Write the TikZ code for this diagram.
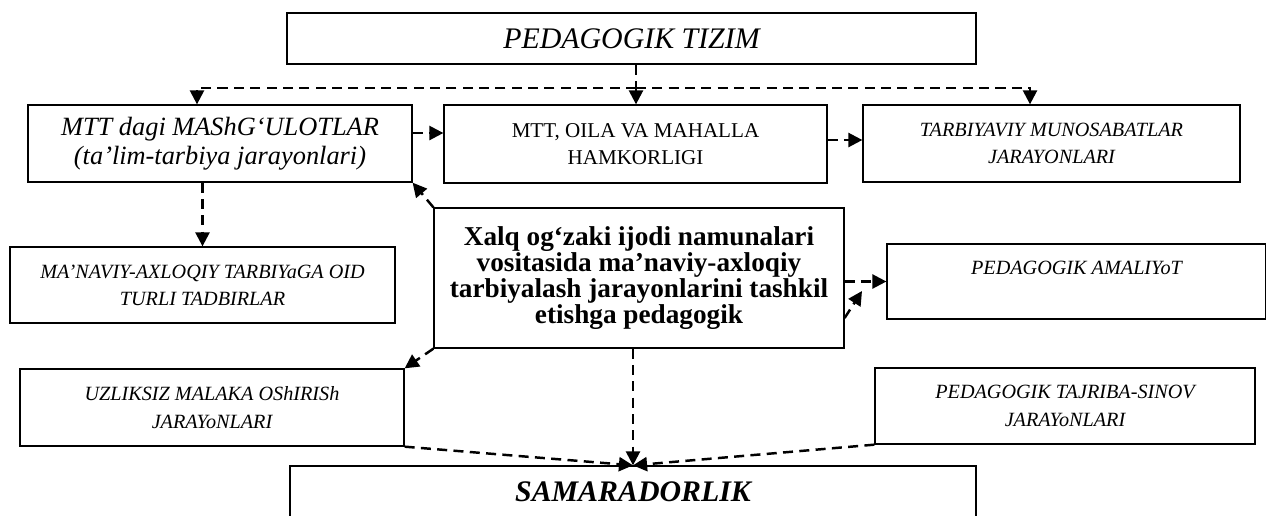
\documentclass[tikz,border=0pt]{standalone}
\usepackage{fontspec}
\setmainfont{Liberation Serif}
\usetikzlibrary{arrows.meta}
\tikzset{
  blok/.style={draw,line width=0.75pt,inner sep=0pt,align=center},
  strelka/.style={-{Triangle[length=8pt,width=8pt]},line width=1.4pt,dash pattern=on 5.7pt off 3.6pt},
  kichik/.style={font=\fontsize{11.5}{15.5}\selectfont\itshape}
}
\begin{document}
\begin{tikzpicture}[x=0.02cm,y=-0.02cm]
  \useasboundingbox (0,0) rectangle (1266,515);
  % yuqori qator
  \node[blok,minimum width=13.78cm,minimum height=1.02cm,font=\fontsize{17}{20}\selectfont\itshape] (tizim) at (631.5,38.5) {PEDAGOGIK TIZIM};
  \node[blok,minimum width=7.68cm,minimum height=1.54cm,font=\fontsize{15}{16.5}\selectfont\itshape] (mashg) at (220,143.5) {MTT dagi MAShG‘ULOTLAR\\(ta’lim-tarbiya jarayonlari)};
  \node[blok,minimum width=7.66cm,minimum height=1.56cm,font=\fontsize{12}{15.5}\selectfont] (hamkor) at (635.5,144) {MTT, OILA VA MAHALLA\\HAMKORLIGI};
  \node[blok,minimum width=7.54cm,minimum height=1.54cm,kichik] (munosabat) at (1051.5,143.5) {TARBIYAVIY MUNOSABATLAR\\JARAYONLARI};
  % o'rta qator
  \node[blok,minimum width=7.7cm,minimum height=1.52cm,kichik] (manaviy) at (202.5,285) {MA’NAVIY-AXLOQIY TARBIYaGA OID\\TURLI TADBIRLAR};
  \node[blok,minimum width=8.2cm,minimum height=2.8cm,font=\fontsize{15.5}{14.8}\selectfont\bfseries] (xalq) at (639,278) {Xalq og‘zaki ijodi namunalari\\vositasida ma’naviy-axloqiy\\tarbiyalash jarayonlarini tashkil\\etishga pedagogik};
  \node[blok,minimum width=7.58cm,minimum height=1.5cm,kichik] (amaliyot) at (1076.5,281.5) {PEDAGOGIK AMALIYoT\\\mbox{}};
  % pastki qator
  \node[blok,minimum width=7.68cm,minimum height=1.54cm,kichik] (uzliksiz) at (212,407.5) {UZLIKSIZ MALAKA OShIRISh\\JARAYoNLARI};
  \node[blok,minimum width=7.6cm,minimum height=1.52cm,kichik] (tajriba) at (1065,406) {PEDAGOGIK TAJRIBA-SINOV\\JARAYoNLARI};
  \node[blok,minimum width=13.72cm,minimum height=1.04cm,font=\fontsize{17}{20}\selectfont\bfseries\itshape] (samara) at (633,492) {SAMARADORLIK};
  % strelkalar
  \coordinate (tarmoq) at (636,88);
  \coordinate (chap) at (197,88);
  \coordinate (ong) at (1030,88);
  \coordinate (uch) at (862,291);
  \draw[strelka] (tizim.south -| tarmoq) -- (hamkor.north -| tarmoq);
  \draw[strelka] (tarmoq) -| (mashg.north -| chap);
  \draw[strelka] (tarmoq) -| (munosabat.north -| ong);
  \draw[strelka] ([yshift=0.21cm]mashg.east) -- ([yshift=0.21cm]mashg.east -| hamkor.west);
  \draw[strelka] ([yshift=0.08cm]hamkor.east) -- ([yshift=0.08cm]hamkor.east -| munosabat.west);
  \draw[strelka] (mashg.south -| manaviy.north) -- (manaviy.north);
  \draw[strelka] (xalq.north west) -- (mashg.south east);
  \draw[strelka] (xalq.east |- amaliyot.west) -- (amaliyot.west);
  \draw[strelka] (xalq.east |- 0,318) -- (uch);
  \draw[strelka] (xalq.south west) -- (uzliksiz.north east);
  \draw[strelka] (xalq.south -| samara.north) -- (samara.north);
  \draw[strelka] (uzliksiz.south east) -- (samara.north);
  \draw[strelka] (tajriba.south west) -- (samara.north);
\end{tikzpicture}
\end{document}
